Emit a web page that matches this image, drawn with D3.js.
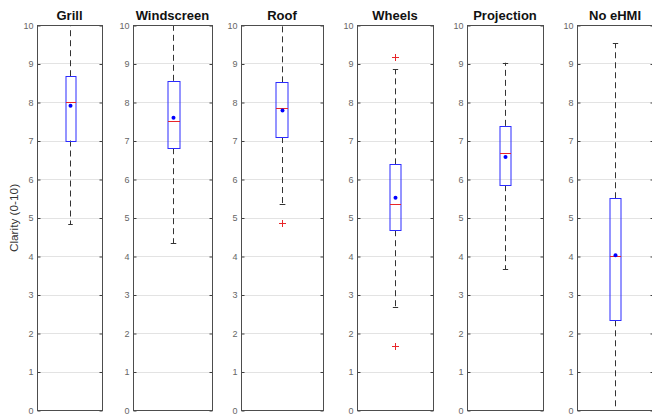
<!DOCTYPE html>
<html>
<head>
<meta charset="utf-8">
<script src="https://cdn.jsdelivr.net/npm/d3@7"></script>
<style>
  html, body { margin: 0; padding: 0; background: #fff; }
  svg { display: block; font-family: "Liberation Sans", Arial, Helvetica, sans-serif; }
</style>
</head>
<body>
<svg id="chart" width="652" height="414"></svg>
<script>
// Clarity ratings (0-10) per eHMI location, summarised as box plots
const categories  = ["Grill", "Windscreen", "Roof", "Wheels", "Projection", "No eHMI"];
const q1          = [7.00, 6.80, 7.09, 4.67, 5.84, 2.33];
const medians     = [8.00, 7.50, 7.84, 5.34, 6.67, 4.00];
const q3          = [8.67, 8.55, 8.51, 6.38, 7.38, 5.50];
const whiskerLow  = [4.83, 4.33, 5.35, 2.67, 3.66, 0.00];
const whiskerHigh = [10.0, 10.0, 10.0, 8.85, 9.02, 9.52];
const means       = [7.90, 7.59, 7.78, 5.51, 6.57, 4.02];
const outliers    = [[], [], [4.86], [9.18, 1.65], [], []];
const yTicks      = [0, 1, 2, 3, 4, 5, 6, 7, 8, 9, 10];

// Subplot frames (pixel edges of each axes box)
const panelLeft  = [37, 133, 241, 357, 467, 577];
const panelRight = [102, 212, 323, 433, 543, 653];
const plotTop = 25, plotBottom = 410;

const svg = d3.select("#chart");
const y = d3.scaleLinear().domain([0, 10]).range([plotBottom, plotTop]);

categories.forEach((name, i) => {
  const x = d3.scaleLinear().domain([0.5, 1.5]).range([panelLeft[i], panelRight[i]]);
  const g = svg.append("g");
  const L = panelLeft[i] + 0.5, R = panelRight[i] + 0.5;

  // horizontal grid
  g.selectAll("line.grid").data(yTicks).enter().append("line")
    .attr("class", "grid")
    .attr("x1", L).attr("x2", R)
    .attr("y1", d => Math.round(y(d)) + 0.5).attr("y2", d => Math.round(y(d)) + 0.5)
    .attr("stroke", "#e3e3e3").attr("stroke-width", 1);

  // left axis with labels, right axis ticks only
  const left = g.append("g").attr("transform", `translate(${L},0.5)`)
    .call(d3.axisLeft(y).tickValues(yTicks).tickSize(-3).tickPadding(4).tickFormat(d3.format("d")));
  const right = g.append("g").attr("transform", `translate(${R},0.5)`)
    .call(d3.axisRight(y).tickValues(yTicks).tickSize(-3).tickFormat(""));
  [left, right].forEach(a => {
    a.select(".domain").remove();
    a.selectAll(".tick line").attr("stroke", "#404040");
    a.selectAll(".tick text").attr("fill", "#666").attr("font-size", 9)
      .attr("font-family", "Liberation Sans, Arial, sans-serif");
  });

  const cx = Math.round(x(1)) + 0.5;
  const boxHalf = (x(1.075) - x(1));
  const capHalf = (x(1.035) - x(1));

  // whiskers
  g.append("line").attr("x1", cx).attr("x2", cx)
    .attr("y1", y(q3[i])).attr("y2", y(whiskerHigh[i]))
    .attr("stroke", "#333").attr("stroke-dasharray", "6,4");
  g.append("line").attr("x1", cx).attr("x2", cx)
    .attr("y1", y(q1[i])).attr("y2", y(whiskerLow[i]))
    .attr("stroke", "#333").attr("stroke-dasharray", "6,4");
  [whiskerHigh[i], whiskerLow[i]].forEach(v => {
    g.append("line").attr("x1", cx - capHalf).attr("x2", cx + capHalf)
      .attr("y1", Math.round(y(v)) + 0.5).attr("y2", Math.round(y(v)) + 0.5)
      .attr("stroke", "#333");
  });

  // box
  g.append("rect")
    .attr("x", Math.round(cx - boxHalf))
    .attr("y", Math.round(y(q3[i])) + 0.5)
    .attr("width", Math.round(boxHalf * 2))
    .attr("height", Math.round(y(q1[i])) - Math.round(y(q3[i])))
    .attr("fill", "none").attr("stroke", "#2b2bff").attr("stroke-width", 1);

  // median
  g.append("line")
    .attr("x1", Math.round(cx - boxHalf)).attr("x2", Math.round(cx - boxHalf) + Math.round(boxHalf * 2))
    .attr("y1", Math.round(y(medians[i])) + 0.5).attr("y2", Math.round(y(medians[i])) + 0.5)
    .attr("stroke", "#e8262a").attr("stroke-width", 1);

  // mean
  g.append("circle").attr("cx", cx).attr("cy", y(means[i])).attr("r", 2)
    .attr("fill", "#0000ff");

  // outliers
  outliers[i].forEach(v => {
    const oy = Math.round(y(v)) + 0.5;
    g.append("path")
      .attr("d", `M${cx - 3.5},${oy}H${cx + 3.5}M${cx},${oy - 3.5}V${oy + 3.5}`)
      .attr("stroke", "#e8262a").attr("stroke-width", 1);
  });

  // axes frame
  g.append("rect")
    .attr("x", L).attr("y", plotTop + 0.5)
    .attr("width", R - L).attr("height", plotBottom - plotTop)
    .attr("fill", "none").attr("stroke", "#4d4d4d").attr("stroke-width", 1);

  // title
  g.append("text")
    .attr("x", (panelLeft[i] + panelRight[i]) / 2).attr("y", 20)
    .attr("text-anchor", "middle").attr("font-size", 13).attr("font-weight", "bold")
    .attr("fill", "#111").text(name);
});

// y axis label
svg.append("text")
  .attr("transform", "translate(18,218) rotate(-90)")
  .attr("text-anchor", "middle").attr("font-size", 11.8).attr("fill", "#333")
  .text("Clarity (0-10)");
</script>
</body>
</html>
